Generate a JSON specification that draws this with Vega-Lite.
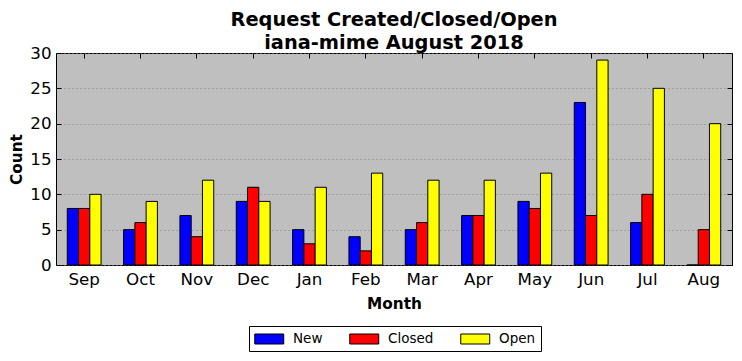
{
  "$schema": "https://vega.github.io/schema/vega-lite/v6.json",
  "width": 676,
  "height": 212,
  "autosize": {"type": "none"},
  "padding": {"left": 56, "top": 53, "right": 10, "bottom": 96},
  "background": "white",
  "title": {
    "text": ["Request Created/Closed/Open", "iana-mime August 2018"],
    "font": "DejaVu Sans",
    "fontSize": 19.4,
    "fontWeight": "bold",
    "color": "black",
    "anchor": "middle",
    "offset": -8,
    "lineHeight": 23
  },
  "config": {
    "view": {"fill": "#bfbfbf", "stroke": "black", "strokeWidth": 1},
    "axis": {
      "labelFont": "DejaVu Sans",
      "labelFontSize": 16.7,
      "labelColor": "black",
      "titleFont": "DejaVu Sans",
      "titleFontSize": 15.3,
      "titleFontWeight": "bold",
      "titleColor": "black",
      "tickColor": "black",
      "tickSize": 5,
      "domain": false
    }
  },
  "data": {
    "values": [
      {"month": "Sep", "series": "New", "count": 8},
      {"month": "Sep", "series": "Closed", "count": 8},
      {"month": "Sep", "series": "Open", "count": 10},
      {"month": "Oct", "series": "New", "count": 5},
      {"month": "Oct", "series": "Closed", "count": 6},
      {"month": "Oct", "series": "Open", "count": 9},
      {"month": "Nov", "series": "New", "count": 7},
      {"month": "Nov", "series": "Closed", "count": 4},
      {"month": "Nov", "series": "Open", "count": 12},
      {"month": "Dec", "series": "New", "count": 9},
      {"month": "Dec", "series": "Closed", "count": 11},
      {"month": "Dec", "series": "Open", "count": 9},
      {"month": "Jan", "series": "New", "count": 5},
      {"month": "Jan", "series": "Closed", "count": 3},
      {"month": "Jan", "series": "Open", "count": 11},
      {"month": "Feb", "series": "New", "count": 4},
      {"month": "Feb", "series": "Closed", "count": 2},
      {"month": "Feb", "series": "Open", "count": 13},
      {"month": "Mar", "series": "New", "count": 5},
      {"month": "Mar", "series": "Closed", "count": 6},
      {"month": "Mar", "series": "Open", "count": 12},
      {"month": "Apr", "series": "New", "count": 7},
      {"month": "Apr", "series": "Closed", "count": 7},
      {"month": "Apr", "series": "Open", "count": 12},
      {"month": "May", "series": "New", "count": 9},
      {"month": "May", "series": "Closed", "count": 8},
      {"month": "May", "series": "Open", "count": 13},
      {"month": "Jun", "series": "New", "count": 23},
      {"month": "Jun", "series": "Closed", "count": 7},
      {"month": "Jun", "series": "Open", "count": 29},
      {"month": "Jul", "series": "New", "count": 6},
      {"month": "Jul", "series": "Closed", "count": 10},
      {"month": "Jul", "series": "Open", "count": 25},
      {"month": "Aug", "series": "New", "count": 0},
      {"month": "Aug", "series": "Closed", "count": 5},
      {"month": "Aug", "series": "Open", "count": 20}
    ]
  },
  "resolve": {"axis": {"x": "independent", "y": "independent"}},
  "layer": [
    {
      "mark": {"type": "bar", "stroke": "black", "strokeWidth": 1},
      "encoding": {
        "x": {
          "field": "month", "type": "nominal",
          "sort": ["Sep","Oct","Nov","Dec","Jan","Feb","Mar","Apr","May","Jun","Jul","Aug"],
          "scale": {"paddingInner": 0.4, "paddingOuter": 0.2},
          "axis": {"title": "Month", "labelAngle": 0, "ticks": false, "labelPadding": 6, "titlePadding": 9, "grid": false, "orient": "bottom"}
        },
        "xOffset": {"field": "series", "type": "nominal", "scale": {"domain": ["New", "Closed", "Open"], "paddingInner": 0, "paddingOuter": 0}},
        "y": {
          "field": "count", "type": "quantitative",
          "scale": {"domain": [0, 30], "nice": false},
          "axis": {"title": "Count", "values": [0,5,10,15,20,25,30], "ticks": false, "labelPadding": 5, "titlePadding": 5, "grid": true, "gridColor": "#808080", "gridDash": [1, 3], "gridWidth": 1, "orient": "left"}
        },
        "color": {
          "field": "series", "type": "nominal",
          "scale": {"domain": ["New", "Closed", "Open"], "range": ["#0000ff", "#ff0000", "#ffff00"]},
          "legend": {
            "title": null,
            "orient": "none",
            "legendX": 193,
            "legendY": 273,
            "direction": "horizontal",
            "strokeColor": "black",
            "padding": 5,
            "symbolType": "M-1,-0.69H3V0.69H-1Z",
            "symbolSize": 210,
            "symbolStrokeColor": "black",
            "symbolStrokeWidth": 1,
            "symbolOpacity": 1,
            "labelFont": "DejaVu Sans",
            "labelFontSize": 13.5,
            "labelColor": "black",
            "labelOffset": 23,
            "columnPadding": 24
          }
        }
      }
    },
    {
      "mark": {"type": "tick", "opacity": 0},
      "encoding": {
        "x": {
          "field": "month", "type": "nominal",
          "sort": ["Sep","Oct","Nov","Dec","Jan","Feb","Mar","Apr","May","Jun","Jul","Aug"],
          "axis": {"title": null, "labels": false, "orient": "bottom", "offset": -5, "grid": false}
        },
        "y": {
          "field": "count", "type": "quantitative",
          "axis": {"title": null, "labels": false, "orient": "left", "offset": -5, "values": [0,5,10,15,20,25,30], "grid": false}
        }
      }
    },
    {
      "mark": {"type": "tick", "opacity": 0},
      "encoding": {
        "x": {
          "field": "month", "type": "nominal",
          "sort": ["Sep","Oct","Nov","Dec","Jan","Feb","Mar","Apr","May","Jun","Jul","Aug"],
          "axis": {"title": null, "labels": false, "orient": "top", "offset": -5, "grid": false}
        },
        "y": {
          "field": "count", "type": "quantitative",
          "axis": {"title": null, "labels": false, "orient": "right", "offset": -5, "values": [0,5,10,15,20,25,30], "grid": false}
        }
      }
    }
  ]
}
